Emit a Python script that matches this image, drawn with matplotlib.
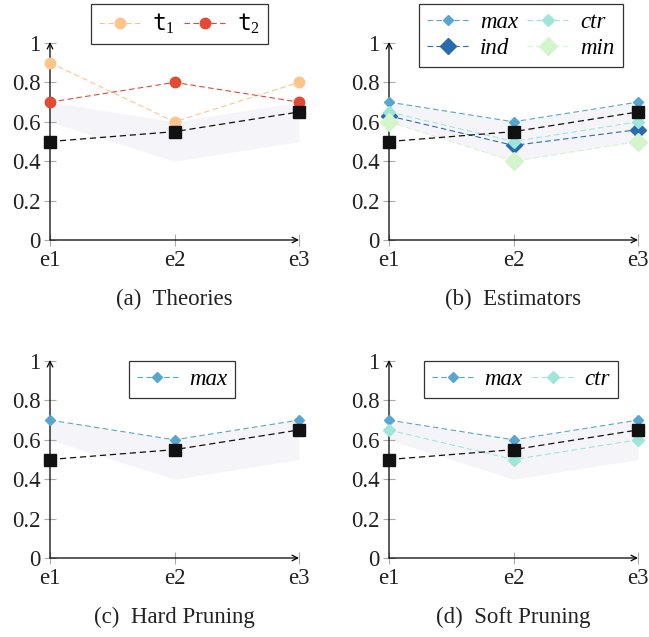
import matplotlib.pyplot as plt

plt.rcParams["font.family"] = "serif"
plt.rcParams["font.serif"] = ["Liberation Serif", "DejaVu Serif"]
plt.rcParams["mathtext.fontset"] = "custom"
plt.rcParams["mathtext.rm"] = "Liberation Serif"
plt.rcParams["mathtext.it"] = "Liberation Serif:italic"
plt.rcParams["mathtext.tt"] = "DejaVu Sans Mono"

x_labels = ["e1", "e2", "e3"]
baseline = [0.5, 0.55, 0.65]
band_low = [0.6, 0.4, 0.5]
band_high = [0.7, 0.6, 0.7]

t1 = [0.9, 0.6, 0.8]
t2 = [0.7, 0.8, 0.7]
est_max = [0.7, 0.6, 0.7]
est_ctr = [0.65, 0.5, 0.6]
est_ind = [0.63, 0.48, 0.56]
est_min = [0.6, 0.4, 0.5]

C_T1 = "#fdc48c"
C_T2 = "#e34a33"
C_MAX = "#56a6cf"
C_CTR = "#9fe6da"
C_IND = "#2a6bb0"
C_MIN = "#d4f5cc"
C_BAND = "#f5f5f9"

DASH = (0, (5, 3))
FS = 16.5

fig = plt.figure(figsize=(6.49, 6.37), dpi=100)
W, H = 649, 637


def make_axes(left_px, zero_px):
    return fig.add_axes([left_px / W, 1 - zero_px / H, 249 / W, 197 / H])


def setup(ax, caption):
    xs = range(len(x_labels))
    ax.fill_between(xs, band_low, band_high, color=C_BAND, lw=0, zorder=1)
    ax.set_xlim(0, 2)
    ax.set_ylim(0, 1)
    for s in ax.spines.values():
        s.set_visible(False)
    ax.set_xticks(list(xs))
    ax.set_xticklabels(x_labels)
    ax.set_yticks([0, 0.2, 0.4, 0.6, 0.8, 1.0])
    ax.set_yticklabels(["0", "0.2", "0.4", "0.6", "0.8", "1"])
    ax.tick_params(direction="inout", length=8, width=0.8, color="#aaaaaa",
                   labelsize=FS, labelcolor="#222222", pad=3)
    ax.annotate("", xy=(2.0, 0), xytext=(0, 0), annotation_clip=False,
                arrowprops=dict(arrowstyle="->", lw=0.9, color="black",
                                shrinkA=0, shrinkB=0))
    ax.annotate("", xy=(0, 1.005), xytext=(0, 0), annotation_clip=False,
                arrowprops=dict(arrowstyle="->", lw=0.9, color="black",
                                shrinkA=0, shrinkB=0))
    ax.text(0.5, -0.3, "(" + caption[0] + ")  " + caption[1],
            transform=ax.transAxes, ha="center", va="center", fontsize=FS,
            color="#222222")


def series(ax, y, color, marker, ms, label):
    ax.plot(range(len(y)), y, ls=DASH, lw=0.8, color=color, marker=marker,
            ms=ms, mec=color, mfc=color, label=label, clip_on=False, zorder=3)


def black(ax):
    ax.plot(range(len(baseline)), baseline, ls=DASH, lw=0.9, color="#111111",
            marker="s", ms=8.5, clip_on=False, zorder=5)


LEG_KW = dict(loc="upper center", frameon=True, fancybox=False,
              edgecolor="black", handlelength=1.8, columnspacing=0.4,
              handletextpad=0.5, borderpad=0.35, labelspacing=0.25,
              borderaxespad=0)


def legend(ax, ncol, anchor):
    leg = ax.legend(bbox_to_anchor=anchor, ncol=ncol,
                    prop={"family": "serif", "style": "italic", "size": FS},
                    **LEG_KW)
    leg.get_frame().set_linewidth(0.9)
    return leg


ax_a = make_axes(50, 240)
setup(ax_a, ("a", "Theories"))
series(ax_a, t1, C_T1, "o", 7.5, r"$\mathtt{t}_1$")
series(ax_a, t2, C_T2, "o", 7.5, r"$\mathtt{t}_2$")
black(ax_a)
leg = ax_a.legend(bbox_to_anchor=(0.52, 1.2), ncol=2, fontsize=FS, **LEG_KW)
leg.get_frame().set_linewidth(0.9)

ax_b = make_axes(389, 240)
setup(ax_b, ("b", "Estimators"))
series(ax_b, est_max, C_MAX, "D", 5, "max")
series(ax_b, est_ind, C_IND, "D", 8, "ind")
series(ax_b, est_ctr, C_CTR, "D", 6.5, "ctr")
series(ax_b, est_min, C_MIN, "D", 9, "min")
black(ax_b)
legend(ax_b, 2, (0.53, 1.2))

ax_c = make_axes(50, 558)
setup(ax_c, ("c", "Hard Pruning"))
series(ax_c, est_max, C_MAX, "D", 5, "max")
black(ax_c)
legend(ax_c, 1, (0.53, 1.0))

ax_d = make_axes(389, 558)
setup(ax_d, ("d", "Soft Pruning"))
series(ax_d, est_max, C_MAX, "D", 5, "max")
series(ax_d, est_ctr, C_CTR, "D", 6.5, "ctr")
black(ax_d)
legend(ax_d, 2, (0.53, 1.0))

fig.savefig("out.png", dpi=100)
